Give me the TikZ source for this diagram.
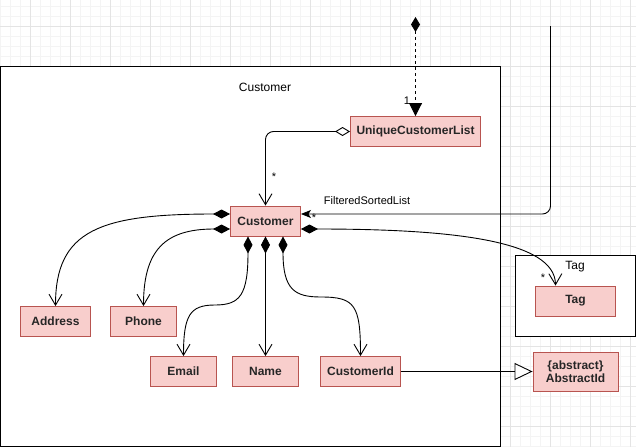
\documentclass[tikz,border=0pt]{standalone}
\usepackage{fontspec}
\setmainfont{Liberation Sans}
\usetikzlibrary{arrows.meta}
\definecolor{boxfill}{HTML}{F8CECC}
\definecolor{boxline}{HTML}{B85450}
\definecolor{gridminor}{HTML}{F4F4F4}
\definecolor{gridmajor}{HTML}{E4E4E4}
\tikzset{
  cls/.style={draw=boxline, fill=boxfill, line width=0.9pt, inner sep=0pt, font=\bfseries\fontsize{12}{14}\selectfont, align=center, text=black!85},
  lbl/.style={inner sep=0pt, font=\fontsize{11}{13}\selectfont},
  conn/.style={line width=0.9pt, draw=black},
  comp/.style={conn, {Diamond[length=17pt,width=9pt]}-{Straight Barb[length=11pt,width=13pt]}},
}
\begin{document}
\begin{tikzpicture}[x=1pt,y=-1pt]
\useasboundingbox (0,0) rectangle (636,447);
\fill[white] (0,0) rectangle (636,447);
% grid
\foreach \x in {0,10,...,630} \draw[gridminor, line width=0.6pt] (\x,0) -- (\x,447);
\foreach \y in {6,16,...,446} \draw[gridminor, line width=0.6pt] (0,\y) -- (636,\y);
\foreach \x in {30,70,...,630} \draw[gridmajor, line width=0.8pt] (\x,0) -- (\x,447);
\foreach \y in {26,66,...,426} \draw[gridmajor, line width=0.8pt] (0,\y) -- (636,\y);
% frames
\draw[fill=white, line width=1pt] (0.6,66) rectangle (500,446);
\node[lbl, font=\fontsize{12}{14}\selectfont] (ftitle) at (265,87) {Customer};
\draw[fill=white, line width=1pt] (515.5,255.5) rectangle (635,336);
\node[lbl, font=\fontsize{12}{14}\selectfont] (tagtitle) at (575,267) {Tag};
% classes
\node[cls, minimum width=130pt, minimum height=30pt] (ucl) at (415.5,131.5) {UniqueCustomerList};
\node[cls, minimum width=70pt, minimum height=30pt] (cust) at (265.5,221) {Customer};
\node[cls, minimum width=70pt, minimum height=30pt] (addr) at (55.5,321.5) {Address};
\node[cls, minimum width=66pt, minimum height=30pt] (phone) at (143.5,321.5) {Phone};
\node[cls, minimum width=66pt, minimum height=30pt] (email) at (183.5,371.5) {Email};
\node[cls, minimum width=66pt, minimum height=30pt] (name) at (265.5,371.5) {Name};
\node[cls, minimum width=80pt, minimum height=30pt] (cid) at (360.5,371.5) {CustomerId};
\node[cls, minimum width=80pt, minimum height=30pt] (tag) at (575.5,301) {Tag};
\node[cls, minimum width=85pt, minimum height=39pt, font=\bfseries\fontsize{12}{13.5}\selectfont] (abs) at (575.5,371.5) {\{abstract\}\\AbstractId};
% top dashed composition
\coordinate (topend) at (415.5,17);
\draw[conn, dash pattern=on 3pt off 3pt, {Diamond[length=15pt,width=9pt]}-{Triangle[length=13pt,width=13pt]}] (topend) -- (ucl.north);
\node[lbl] (one) at (407,101) {1};
% aggregation UniqueCustomerList -> Customer
\draw[conn, rounded corners=8pt, {Diamond[open,length=15pt,width=9pt,fill=white]}-{Straight Barb[length=11pt,width=13pt]}] (ucl.west) -| (cust.north);
\node[lbl] (st1) at (274,177) {*};
% FilteredSortedList
\coordinate (fsltop) at (550.5,26);
\draw[conn, rounded corners=8pt, -{Stealth[length=10pt,width=8pt,inset=2.5pt]}] (fsltop) |- ([yshift=7pt]cust.east);
\node[lbl] (fsl) at (367,201) {FilteredSortedList};
\node[lbl] (st2) at (314,218) {*};
% Customer -> Tag
\draw[comp] ([yshift=-8pt]cust.east) .. controls (450,229) and (555,240) .. ([xshift=-20pt]tag.north);
\node[lbl] (st3) at (543,278) {*};
% compositions to attributes
\draw[comp] ([yshift=7pt]cust.west) .. controls (100,214) and (55.5,230) .. (addr.north);
\draw[comp] ([yshift=-8pt]cust.west) .. controls (165,229) and (143.5,250) .. (phone.north);
\draw[comp] ([xshift=-17.5pt]cust.south) .. controls (248,295) and (240,305) .. (215,305) .. controls (190,305) and (183.5,315) .. (email.north);
\draw[comp] (cust.south) -- (name.north);
\draw[comp] ([xshift=17.5pt]cust.south) .. controls (283,290) and (295,297) .. (321,297) .. controls (355,297) and (360.5,305) .. (cid.north);
% generalization
\draw[conn, -{Triangle[open,length=18pt,width=17pt,fill=white]}] (cid.east) -- (abs.west);
\end{tikzpicture}
\end{document}
